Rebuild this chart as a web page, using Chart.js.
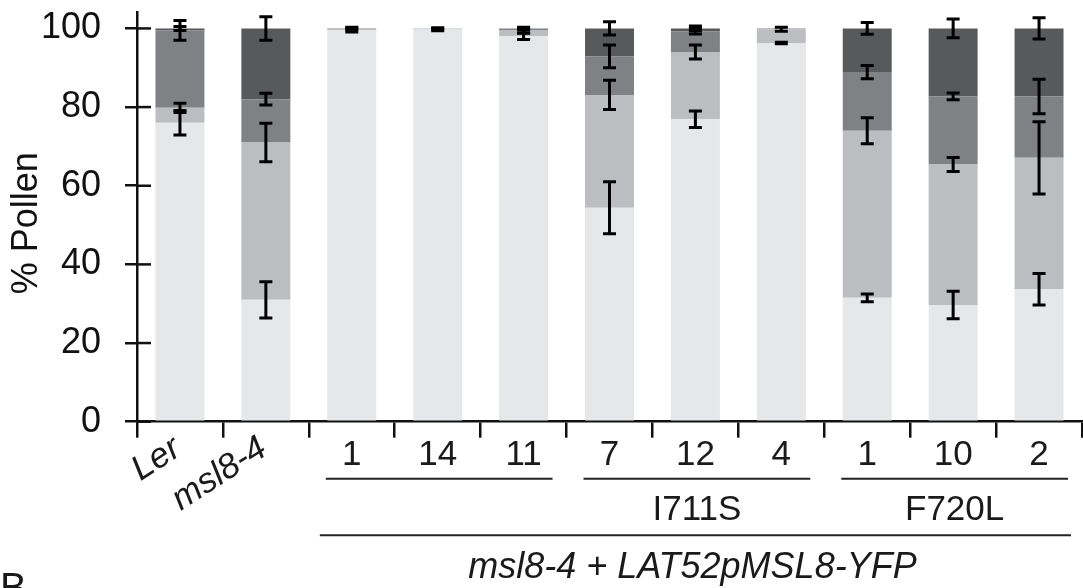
<!DOCTYPE html>
<html>
<head>
<meta charset="utf-8">
<script src="https://cdn.jsdelivr.net/npm/chart.js@4.4.0/dist/chart.umd.min.js"></script>
<style>
    html, body { margin: 0; padding: 0; background: #fff; }
    #wrap { width: 1083px; height: 588px; }
</style>
</head>
<body>
<div id="wrap"><canvas id="myChart" width="1083" height="588"></canvas></div>
<script>
const categories = ['Ler', 'msl8-4', '1', '14', '11', '7', '12', '4', '1', '10', '2'];
const rotatedLabels = [0, 1];

// stacked segments, bottom to top (% pollen)
const seg1 = [76, 31, 99.6, 99.7, 98.0, 54.4, 76.9, 96.3, 31.5, 29.7, 33.7];
const seg2 = [3.8, 40, 0.1, 0.3, 1.5, 28.7, 17.1, 3.5, 42.5, 35.7, 33.4];
const seg3 = [19.7, 11, 0.3, 0, 0.5, 9.8, 5.3, 0.2, 14.9, 17.3, 15.6];
const seg4 = [0.5, 18, 0, 0, 0, 7.1, 0.7, 0, 11.1, 17.3, 17.3];

// error (+/-) drawn at top of each segment
const err1 = [3.1, 4.6, 0.5, 0.3, 0.8, 6.6, 2.1, 0.2, 1.0, 3.5, 4.0];
const err2 = [1.2, 4.9, 0, 0.2, 0.6, 3.7, 1.8, 0.5, 3.3, 1.8, 9.2];
const err3 = [2.5, 1.5, 0.3, 0, 0.3, 2.9, 0.7, 0, 1.7, 0.85, 4.4];
const err4 = [0.5, 3.0, 0, 0, 0, 1.7, 0.6, 0, 1.5, 2.4, 2.7];

const yTicks = [0, 20, 40, 60, 80, 100];
const yTitle = '% Pollen';

const groupStart = [2, 5, 8];
const groupEnd = [4, 7, 10];
const groupLabels = ['', 'I711S', 'F720L'];
const constructStart = 2;
const constructEnd = 10;
const constructLabel = 'msl8-4 + LAT52pMSL8-YFP';

const segments = [seg1, seg2, seg3, seg4];
const errors = [err1, err2, err3, err4];
const colors = ['#e6e7e8', '#bcbdc0', '#808184', '#58595b'];

const FONT = '"Liberation Sans", Arial, Helvetica, sans-serif';
Chart.defaults.font.family = FONT;
Chart.defaults.color = '#1a1a1a';

const errorBars = {
    id: 'errorBars',
    afterDatasetsDraw(chart) {
        let ctx = chart.ctx;
        let xs = chart.scales.x;
        let ys = chart.scales.y;
        ctx.save();
        ctx.strokeStyle = '#000';
        ctx.lineWidth = 3;
        categories.forEach(function (c, j) {
            let cum = 0;
            segments.forEach(function (seg, i) {
                cum += seg[j];
                let e = errors[i][j];
                if (!seg[j] || !e) return;
                let px = xs.getPixelForValue(j);
                let top = ys.getPixelForValue(cum + e);
                let bot = ys.getPixelForValue(cum - e);
                ctx.beginPath();
                ctx.moveTo(px, top);
                ctx.lineTo(px, bot);
                ctx.moveTo(px - 6.5, top);
                ctx.lineTo(px + 6.5, top);
                ctx.moveTo(px - 6.5, bot);
                ctx.lineTo(px + 6.5, bot);
                ctx.stroke();
            });
        });
        ctx.restore();
    },
};

const axisDecor = {
    id: 'axisDecor',
    afterDraw(chart) {
        let ctx = chart.ctx;
        let xs = chart.scales.x;
        let ys = chart.scales.y;
        let area = chart.chartArea;
        let half = (xs.getPixelForValue(1) - xs.getPixelForValue(0)) / 2;
        ctx.save();

        // inner half of the y ticks (they cross the axis)
        ctx.strokeStyle = '#111';
        ctx.lineWidth = 2.5;
        yTicks.forEach(function (v) {
            let py = ys.getPixelForValue(v);
            ctx.beginPath();
            ctx.moveTo(area.left, py);
            ctx.lineTo(area.left + 14, py);
            ctx.stroke();
        });

        // y title
        ctx.save();
        ctx.fillStyle = '#111';
        ctx.translate(27, (area.top + area.bottom) / 2 + 6);
        ctx.rotate(-Math.PI / 2);
        ctx.font = '36px ' + FONT;
        ctx.textAlign = 'center';
        ctx.textBaseline = 'middle';
        ctx.fillText(yTitle, 0, 0);
        ctx.restore();

        // category labels
        ctx.fillStyle = '#1a1a1a';
        categories.forEach(function (c, i) {
            let px = xs.getPixelForValue(i);
            if (rotatedLabels.indexOf(i) >= 0) {
                ctx.save();
                ctx.translate(px + 3, area.bottom + 32);
                ctx.rotate(-33 * Math.PI / 180);
                ctx.font = 'italic 35px ' + FONT;
                ctx.textAlign = 'right';
                ctx.textBaseline = 'alphabetic';
                ctx.fillText(c, 0, 0);
                ctx.restore();
            } else {
                ctx.font = '35px ' + FONT;
                ctx.textAlign = 'center';
                ctx.textBaseline = 'alphabetic';
                ctx.fillText(c, px, area.bottom + 43.5);
            }
        });

        // group lines + labels
        ctx.strokeStyle = '#222';
        ctx.lineWidth = 2;
        groupStart.forEach(function (s, k) {
            let x1 = xs.getPixelForValue(s) - half + 17;
            let x2 = xs.getPixelForValue(groupEnd[k]) + half - 14;
            let ly = area.bottom + 57;
            ctx.beginPath();
            ctx.moveTo(x1, ly);
            ctx.lineTo(x2, ly);
            ctx.stroke();
            if (groupLabels[k]) {
                ctx.font = '35px ' + FONT;
                ctx.textAlign = 'center';
                ctx.fillText(groupLabels[k], (x1 + x2) / 2, area.bottom + 98.5);
            }
        });

        let cx1 = xs.getPixelForValue(constructStart) - half + 11;
        let cx2 = xs.getPixelForValue(constructEnd) + half - 11;
        ctx.beginPath();
        ctx.moveTo(cx1, area.bottom + 113.5);
        ctx.lineTo(cx2, area.bottom + 113.5);
        ctx.stroke();
        ctx.font = 'italic 36px ' + FONT;
        ctx.textAlign = 'center';
        ctx.fillText(constructLabel, (cx1 + cx2) / 2 - 3, area.bottom + 156);

        // panel letter (cut off at the bottom)
        ctx.font = '40px ' + FONT;
        ctx.textAlign = 'left';
        ctx.textBaseline = 'top';
        ctx.fillText('B', 0, 570);

        ctx.restore();
    },
};

let ctx = document.getElementById('myChart').getContext('2d');
window.myChart = new Chart(ctx, {
    type: 'bar',
    data: {
        labels: categories,
        datasets: segments.map(function (seg, i) {
            return {
                label: 'seg' + (i + 1),
                data: seg,
                backgroundColor: colors[i],
                borderWidth: 0,
                barPercentage: 0.57,
                categoryPercentage: 1.0,
            };
        }),
    },
    options: {
        responsive: false,
        animation: false,
        layout: { padding: { top: 12.7, right: 1, left: 0, bottom: 0 } },
        plugins: {
            legend: { display: false },
            tooltip: { enabled: false },
        },
        scales: {
            x: {
                stacked: true,
                grid: {
                    offset: true,
                    drawOnChartArea: false,
                    drawTicks: true,
                    tickLength: 16,
                    color: '#111',
                    lineWidth: 2.5,
                },
                border: { display: true, color: '#111', width: 2.5 },
                ticks: { display: false },
                afterFit: function (s) {
                    s.height = 166.3;
                    s.paddingLeft = 0;
                    s.paddingRight = 0;
                },
            },
            y: {
                stacked: true,
                min: 0,
                max: 104,
                ticks: {
                    stepSize: 20,
                    includeBounds: false,
                    padding: 24,
                    color: '#111',
                    font: { size: 36 },
                },
                grid: {
                    drawOnChartArea: false,
                    drawTicks: true,
                    tickLength: 12,
                    color: '#111',
                    lineWidth: 2.5,
                },
                border: { display: true, color: '#111', width: 2.5 },
                afterFit: function (s) {
                    s.width = 137;
                    s.paddingTop = 0;
                    s.paddingBottom = 0;
                },
            },
        },
    },
    plugins: [errorBars, axisDecor],
});
</script>
</body>
</html>
